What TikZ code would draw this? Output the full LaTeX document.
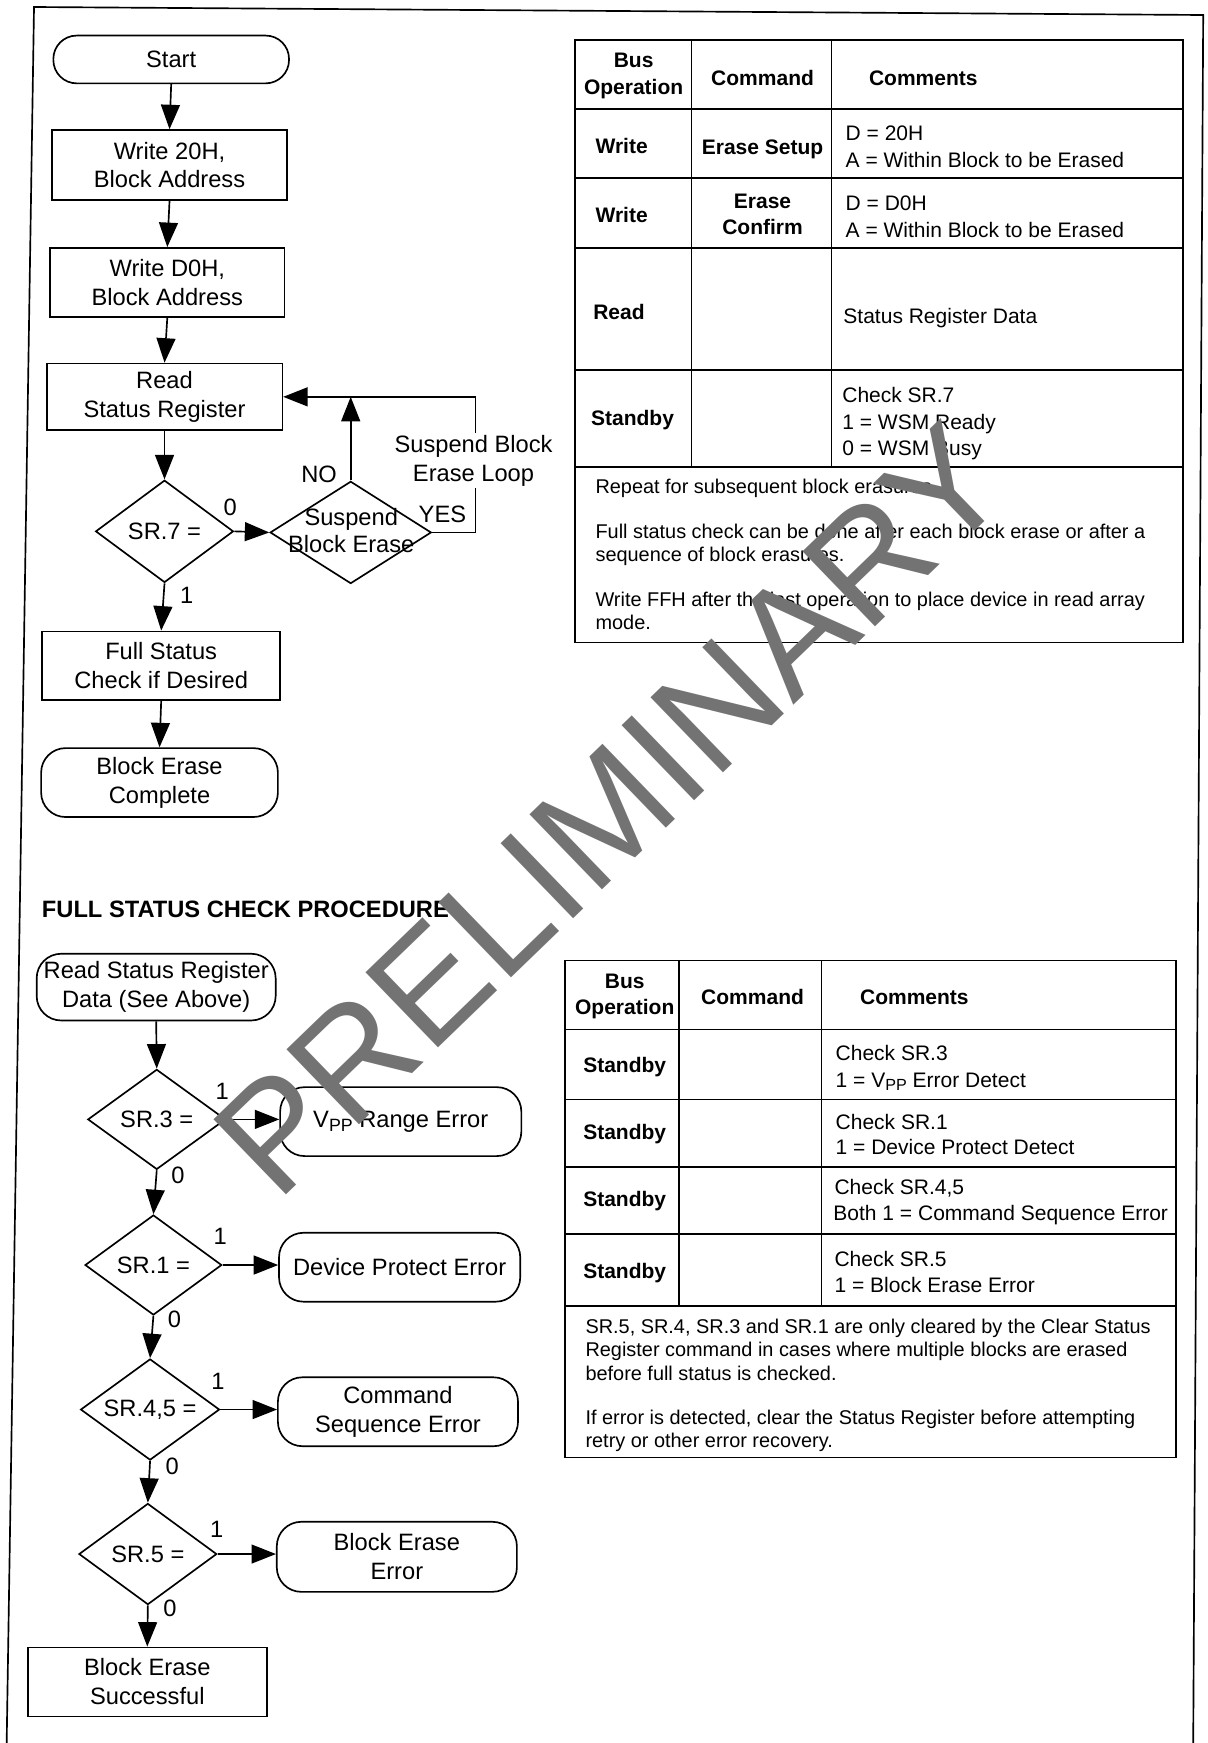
\documentclass[tikz,border=0pt]{standalone}
\usepackage{fontspec}
\setmainfont{Liberation Sans}
\usetikzlibrary{arrows.meta,shapes.geometric}
\newcommand\fcfont{\fontsize{21.3}{26}\selectfont}
\newcommand\tbfont{\fontsize{18.9}{24}\selectfont}
\newcommand\ntfont{\fontsize{17.9}{20.7}\selectfont}
\newcommand\subPP[1]{\raisebox{-0.3ex}{\fontsize{#1}{#1}\selectfont PP}}
\begin{document}
\begin{tikzpicture}[x=1pt,y=-1pt,line width=1.5pt,
  arr/.style={-{Triangle[length=22pt,width=17pt]}},
  fbox/.style={draw,rectangle,font=\fcfont,align=center,inner sep=0pt},
  rbox/.style={fbox,rounded corners=22pt},
  dia/.style={draw,diamond,inner sep=0pt,font=\fcfont},
  fl/.style={font=\fcfont,inner sep=0pt},
  th/.style={font=\tbfont\bfseries,inner sep=0pt,anchor=base},
  thw/.style={font=\tbfont\bfseries,inner sep=0pt,anchor=base west},
  tc/.style={font=\tbfont,inner sep=0pt,anchor=base west},
  tn/.style={font=\ntfont,inner sep=0pt,anchor=base west}]
\useasboundingbox (0,0) rectangle (1086,1568);
% outer frame (scanned page, slightly skewed)
\draw (6,1568) -- (30.6,6.3) -- (1082.4,13.5) -- (1073.4,1568);

% ---------- top flowchart ----------
\node[rbox,rounded corners=21pt,minimum width=212pt,minimum height=43pt] (start) at (154,53.5) {Start};
\node[fbox,minimum width=211pt,minimum height=63pt] (w20) at (152.5,148.5) {Write 20H,\\Block Address};
\node[fbox,minimum width=211pt,minimum height=62pt] (wd0) at (150.5,254) {Write D0H,\\Block Address};
\node[fbox,minimum width=212pt,minimum height=60pt] (rsr) at (148,357) {Read\\Status Register};
\node[dia,minimum width=124pt,minimum height=92pt] (sr7) at (148,478) {\makebox[0pt]{SR.7 =}};
\node[dia,minimum width=145pt,minimum height=92pt] (susp) at (315.5,479) {};
\node[fl,align=center] (susptxt) at (316,477) {Suspend\\[-2pt]Block Erase};
\node[fbox,minimum width=214pt,minimum height=62pt] (fsc) at (145,599) {Full Status\\Check if Desired};
\node[rbox,minimum width=213pt,minimum height=62pt] (bec) at (143.5,704) {Block Erase\\Complete};

\draw[arr] (start.south) -- (w20.north);
\draw[arr] (w20.south) -- (wd0.north);
\draw[arr] (wd0.south) -- (rsr.north);
\draw[arr] (rsr.south) -- (sr7.north);
\draw[arr] (sr7.east) -- (susp.west);
\draw[arr] (susp.north) -- (susp.north |- rsr.east);
\draw[arr] (susp.east) -- ++(39,0) |- (rsr.east);
\draw[arr] (sr7.south) -- (fsc.north);
\draw[arr] (fsc.south) -- (bec.north);

\node[fl] (l0a) at (207,456) {0};
\node[fl] (l1a) at (168,536) {1};
\node[fl] (lno) at (287,427) {NO};
\node[fl] (lyes) at (398,463) {YES};
\node[fl,fill=white,align=center,inner sep=2pt] (lloop) at (426,414.5) {Suspend Block\\Erase Loop};

% ---------- top table ----------
\draw (517,36) rectangle (1064,578);
\foreach \yy in {98,160,223,333,420} \draw (517,\yy) -- (1064,\yy);
\draw (622,36) -- (622,420) (748,36) -- (748,420);
\node[th] (h1a) at (570,61) {Bus};
\node[th] (h1b) at (570,85) {Operation};
\node[th] (h1c) at (686,77) {Command};
\node[thw] (h1d) at (781,77) {Comments};
\node[thw] (r1a) at (535,138) {Write};
\node[th] (r1b) at (686,139) {Erase Setup};
\node[tc] (r1c) at (760,126) {D = 20H};
\node[tc] (r1d) at (760,151) {A = Within Block to be Erased};
\node[thw] (r2a) at (535,200) {Write};
\node[th] (r2b) at (686,188) {Erase};
\node[th] (r2c) at (686,211) {Confirm};
\node[tc] (r2d) at (760,189) {D = D0H};
\node[tc] (r2e) at (760,214) {A = Within Block to be Erased};
\node[thw] (r3a) at (533,287) {Read};
\node[tc] (r3b) at (758,291) {Status Register Data};
\node[thw] (r4a) at (531,383) {Standby};
\node[tc] (r4b) at (757,362) {Check SR.7};
\node[tc] (r4c) at (757,386) {1 = WSM Ready};
\node[tc] (r4d) at (757,410) {0 = WSM Busy};
\node[tn] (n1) at (535,443.5) {Repeat for subsequent block erasures.};
\node[tn] (n2) at (535,484.5) {Full status check can be done after each block erase or after a};
\node[tn] (n3) at (535,505) {sequence of block erasures.};
\node[tn] (n4) at (535,545.5) {Write FFH after the last operation to place device in read array};
\node[tn] (n5) at (535,566) {mode.};

% ---------- lower flowchart ----------
\node[font=\fcfont\bfseries,anchor=base west,inner sep=0pt] (title) at (37,825.7) {FULL STATUS CHECK PROCEDURE};
\node[rbox,minimum width=215pt,minimum height=60pt] (rsd) at (140.5,888) {Read Status Register\\Data (See Above)};
\node[dia,minimum width=124pt,minimum height=90pt] (sr3) at (141,1007) {\makebox[0pt]{SR.3 =}};
\node[rbox,minimum width=217pt,minimum height=62pt] (vpp) at (360.5,1009) {V\subPP{16} Range Error};
\node[dia,minimum width=123pt,minimum height=90pt] (sr1) at (138,1138) {\makebox[0pt]{SR.1 =}};
\node[rbox,minimum width=217pt,minimum height=62pt] (dpe) at (359.5,1140) {Device Protect Error};
\node[dia,minimum width=125pt,minimum height=91pt] (sr45) at (135,1268) {\makebox[0pt]{SR.4,5 =}};
\node[rbox,minimum width=216pt,minimum height=62pt] (cse) at (358,1270) {Command\\Sequence Error};
\node[dia,minimum width=124pt,minimum height=91pt] (sr5) at (133,1398) {\makebox[0pt]{SR.5 =}};
\node[rbox,minimum width=216pt,minimum height=63pt] (bee) at (357,1400.5) {Block Erase\\Error};
\node[fbox,minimum width=215pt,minimum height=62pt] (bes) at (132.5,1513) {Block Erase\\Successful};

\draw[arr] (rsd.south) -- (sr3.north);
\draw[arr] (sr3.south) -- (sr1.north);
\draw[arr] (sr1.south) -- (sr45.north);
\draw[arr] (sr45.south) -- (sr5.north);
\draw[arr] (sr5.south) -- (bes.north);
\draw[arr] (sr3.east) -- (sr3.east -| vpp.west);
\draw[arr] (sr1.east) -- (sr1.east -| dpe.west);
\draw[arr] (sr45.east) -- (sr45.east -| cse.west);
\draw[arr] (sr5.east) -- (sr5.east -| bee.west);

\node[fl] (o3) at (200,982) {1};
\node[fl] (o1) at (198,1112) {1};
\node[fl] (o45) at (196,1243) {1};
\node[fl] (o5) at (195,1376) {1};
\node[fl] (z3) at (160,1057) {0};
\node[fl] (z1) at (157,1187) {0};
\node[fl] (z45) at (155,1319) {0};
\node[fl] (z5) at (153,1447) {0};

% ---------- lower table ----------
\draw (508,864) rectangle (1058,1311);
\foreach \yy in {926,989,1050,1110,1175} \draw (508,\yy) -- (1058,\yy);
\draw (611,864) -- (611,1175) (739,864) -- (739,1175);
\node[th] (h2a) at (562,889) {Bus};
\node[th] (h2b) at (562,913) {Operation};
\node[th] (h2c) at (677,904) {Command};
\node[thw] (h2d) at (773,904) {Comments};
\node[th] (s1) at (562,965) {Standby};
\node[th] (s2) at (562,1025) {Standby};
\node[th] (s3) at (562,1085) {Standby};
\node[th] (s4) at (562,1150) {Standby};
\node[tc] (c1a) at (751,954) {Check SR.3};
\node[tc] (c1b) at (751,978) {1 = V\subPP{14.5} Error Detect};
\node[tc] (c2a) at (751,1016) {Check SR.1};
\node[tc] (c2b) at (751,1039) {1 = Device Protect Detect};
\node[tc] (c3a) at (750,1075) {Check SR.4,5};
\node[tc] (c3b) at (749,1098) {Both 1 = Command Sequence Error};
\node[tc] (c4a) at (750,1139) {Check SR.5};
\node[tc] (c4b) at (750,1163) {1 = Block Erase Error};
\node[tn] (m1) at (526,1199.5) {SR.5, SR.4, SR.3 and SR.1 are only cleared by the Clear Status};
\node[tn] (m2) at (526,1220.5) {Register command in cases where multiple blocks are erased};
\node[tn] (m3) at (526,1241.5) {before full status is checked.};
\node[tn] (m4) at (526,1281.5) {If error is detected, clear the Status Register before attempting};
\node[tn] (m5) at (526,1302.5) {retry or other error recovery.};

% ---------- watermark ----------
\node[font=\fontsize{136.5}{140}\selectfont,text=black!55,rotate=44,anchor=base,inner sep=0pt] (wm) at (582,762) {PRELIMINARY};
\end{tikzpicture}
\end{document}
